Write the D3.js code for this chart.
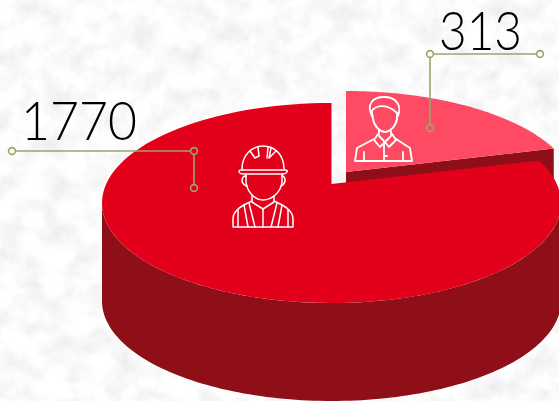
<!DOCTYPE html>
<html>
<head>
<meta charset="utf-8">
<script src="https://cdn.jsdelivr.net/npm/d3@7"></script>
<style>
html, body { margin: 0; padding: 0; background: #f4f4f4; overflow: hidden; }
svg { display: block; }
text { font-family: Lato, "Open Sans", sans-serif; font-weight: 300; fill: #000; }
</style>
</head>
<body>
<div id="chart"></div>
<script>
// values
var categories = ["Office", "Site"];
var values = [313, 1770];
var colors = ["#ff4a64", "#e2001a"];
var wallColor = "#8f0f18";
var leaderColor = "#9ba468";

var width = 559, height = 401;

var cx = 331.5, cy = 203, rx = 229.5, ry = 100;
var apexLift = 19;    // the slices meet above the middle of the ellipse
var edgeTilt = 0.156; // how flat the cut between the slices runs
var depth = 98;
var explode = [14.5, -12];
var dotRadius = 3.4;

var svg = d3.select("#chart").append("svg").attr("width", width).attr("height", height);

// paper texture behind the chart
var defs = svg.append("defs");
var paper = defs.append("filter").attr("id", "paper")
    .attr("x", 0).attr("y", 0).attr("width", "100%").attr("height", "100%");
paper.append("feTurbulence").attr("type", "fractalNoise")
    .attr("baseFrequency", "0.045").attr("numOctaves", 5).attr("seed", 11);
paper.append("feColorMatrix").attr("type", "matrix")
    .attr("values", "0.3 0 0 0 0.81  0.3 0 0 0 0.81  0.3 0 0 0 0.81  0 0 0 0 1");
svg.append("rect").attr("width", width).attr("height", height).attr("filter", "url(#paper)");

var pie = d3.pie().sort(null).value(function (d) { return d; });
var arcs = pie(values);

var rimX = d3.scaleLinear().domain([-1, 1]).range([cx - rx, cx + rx]);
var rimY = d3.scaleLinear().domain([-1, 1]).range([cy - ry, cy + ry]);

// ellipse parameter where the ray out of the apex at pie angle a hits the rim
function rimAngle(a) {
    var dx = Math.sin(a) / rx, dy = (-edgeTilt * Math.cos(a)) / ry;
    var oy = -apexLift / ry;
    var A = dx * dx + dy * dy, B = 2 * oy * dy, C = oy * oy - 1;
    var s = (-B + Math.sqrt(B * B - 4 * A * C)) / (2 * A);
    return Math.atan2(s * dx, -(oy + s * dy));
}
function rimPoint(t) { return [rimX(Math.sin(t)), rimY(-Math.cos(t))]; }
function rimPoints(t0, t1) {
    return d3.range(0, 121).map(function (i) { return rimPoint(t0 + (t1 - t0) * i / 120); });
}

var line = d3.line();
var apex = [cx, rimY(0) - apexLift];
var cut = rimAngle(arcs[0].endAngle);

// side of the big slice
var front = rimPoints(Math.PI * 1.5, Math.PI * 0.5);
var wall = front.concat(front.slice().reverse().map(function (p) { return [p[0], p[1] + depth]; }));
svg.append("path").attr("d", line(wall) + "Z").attr("fill", wallColor);

// small slice, pulled away from the big one
var small = svg.append("g").attr("transform", "translate(" + explode + ")");
var tip = rimPoint(cut);
small.append("path")
    .attr("d", line([apex, tip, [tip[0], tip[1] + depth / 2], [apex[0], apex[1] + depth / 2]]) + "Z")
    .attr("fill", wallColor);
small.append("path")
    .attr("d", line([apex].concat(rimPoints(arcs[0].startAngle, cut))) + "Z")
    .attr("fill", colors[0]);

// big slice
svg.append("path")
    .attr("d", line([apex].concat(rimPoints(cut, Math.PI * 2))) + "Z")
    .attr("fill", colors[1]);

// icons
var worker = svg.append("g").attr("fill", "none").attr("stroke", "#fff")
    .attr("stroke-width", 1.5).attr("stroke-linejoin", "round").attr("stroke-linecap", "round");
[
    "M242,169 C242,155 252,146 263,146 C275,146 284,155 284,169",
    "M241,170 L285,170 Q288,170 287,172 Q286,174 283,174 L243,174 Q240,174 239,172 Q239,170 241,170 Z",
    "M258,147 L259,156 L255,158 L250,151 M268,147 L267,158 M271,148 L269,158 L276,151",
    "M246,174 L246,182 C247,192 255,200 263,200 C272,200 281,192 282,182 L282,174",
    "M246,176 Q242,176 242,181 Q243,185 247,186 M282,176 Q285,176 285,181 Q284,185 281,186",
    "M252,196 L252,202 L263,209 L274,202 L274,196",
    "M233,227 L293,227 M233,227 L233,219 C233,210 243,205 252,201 M293,227 L293,219 C293,210 283,205 274,201",
    "M263,209 L263,227 M238,210 L238,227 M244,205 L248,227 M249,203 L255,227 M288,210 L288,227 M282,205 L278,227 M277,203 L271,227"
].forEach(function (d) { worker.append("path").attr("d", d); });

var person = svg.append("g").attr("fill", "none").attr("stroke", "#fff")
    .attr("stroke-width", 1.8).attr("stroke-linejoin", "round").attr("stroke-linecap", "round");
[
    "M372,116 C366,104 373,97 384,97 C396,97 402,105 398,116",
    "M371,112 C376,104 388,104 397,113",
    "M372,112 L373,119 C374,126 380,132 385,132 C390,132 396,126 397,119 L397,113",
    "M379,130 L379,136 L385,142 L391,136 L391,130",
    "M378,134 L374,140 L380,147 L385,142 L389,147 L396,140 L392,134",
    "M355,161 L412,161 M355,161 L357,148 L374,139 M412,161 L410,148 L396,139",
    "M364,152 L364,161 M403,152 L403,161 M384,143 L384,161 M384,156 L387,156"
].forEach(function (d) { person.append("path").attr("d", d); });

// leaders and numbers, lines stop at the rim of the hollow dots
var leaders = [
    { label: values[1], tx: 21, ty: 140, len: 116, pts: [[12, 151], [194, 151], [194, 188]] },
    { label: values[0], tx: 439, ty: 50, len: 83, pts: [[540, 54], [430, 54], [430, 128]] }
];
leaders.forEach(function (l) {
    d3.pairs(l.pts).forEach(function (seg) {
        var a = seg[0], b = seg[1];
        var d = Math.hypot(b[0] - a[0], b[1] - a[1]);
        var ux = (b[0] - a[0]) / d * dotRadius, uy = (b[1] - a[1]) / d * dotRadius;
        svg.append("path").attr("d", line([[a[0] + ux, a[1] + uy], [b[0] - ux, b[1] - uy]]))
            .attr("fill", "none").attr("stroke", leaderColor).attr("stroke-width", 1.6);
    });
    l.pts.forEach(function (p) {
        svg.append("circle").attr("cx", p[0]).attr("cy", p[1]).attr("r", dotRadius)
            .attr("fill", "none").attr("stroke", leaderColor).attr("stroke-width", 1.6);
    });
    svg.append("text").attr("x", l.tx).attr("y", l.ty).attr("font-size", 54)
        .attr("textLength", l.len).attr("lengthAdjust", "spacingAndGlyphs").text(l.label);
});
</script>
</body>
</html>
